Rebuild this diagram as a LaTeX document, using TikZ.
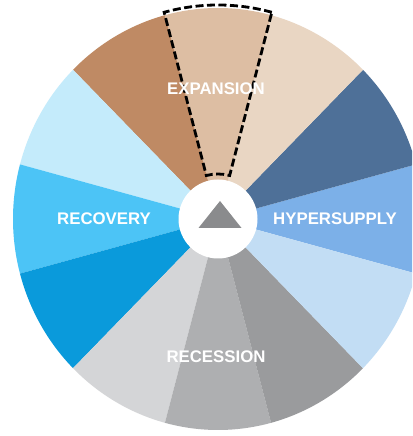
\documentclass[tikz,border=0pt]{standalone}
\usepackage{fontspec}
\setmainfont{Liberation Sans}
\definecolor{cHyp}{HTML}{7CB0E8}
\definecolor{cSlate}{HTML}{4E7098}
\definecolor{cBeige}{HTML}{E9D6C3}
\definecolor{cTan}{HTML}{DDBEA3}
\definecolor{cBrown}{HTML}{BF8A64}
\definecolor{cPaleBlue}{HTML}{C4EBFB}
\definecolor{cSky}{HTML}{4CC4F6}
\definecolor{cBlue}{HTML}{0A9ADB}
\definecolor{cLightGray}{HTML}{D4D5D7}
\definecolor{cGray}{HTML}{AEAFB1}
\definecolor{cDarkGray}{HTML}{9A9B9D}
\definecolor{cIce}{HTML}{C2DDF4}
\definecolor{cTri}{HTML}{8A8B8D}
\begin{document}
\begin{tikzpicture}[x=1pt,y=1pt,
  lbl/.style={text=white, inner sep=0pt, font=\fontsize{16.8}{18}\selectfont\bfseries},
  hubstyle/.style={circle, fill=white, minimum size=79pt, inner sep=0pt},
  focus/.style={black, line width=2.8pt, dash pattern=on 8pt off 3.5pt}]
\useasboundingbox (0,0) rectangle (412,436);
\clip (0,0) rectangle (412,436);
\fill[white] (0,0) rectangle (412,436);
\coordinate (c) at (218,217);
\foreach \a/\col in {-15/cHyp, 15/cSlate, 45/cBeige, 75/cTan, 105/cBrown, 135/cPaleBlue,
                     165/cSky, 195/cBlue, 225/cLightGray, 255/cGray, 285/cDarkGray, 315/cIce}
  \fill[\col] (c) -- ++({205*cos(\a)},{211*sin(\a)})
    arc[start angle=\a, end angle=\a+30, x radius=205, y radius=211] -- cycle;
\draw[focus] ([shift={({208*cos(75)},{214*sin(75)})}]c)
  arc[start angle=75, end angle=105, x radius=208, y radius=214]
  -- ([shift={(105:45)}]c) arc[start angle=105, end angle=75, radius=45] -- cycle;
\node[hubstyle] (hub) at (c) {};
\fill[cTri] ([shift={(2,18)}]hub.center) -- ([shift={(-19.5,-9)}]hub.center) -- ([shift={(23.5,-9)}]hub.center) -- cycle;
\node[lbl] (expansion) at (216,347) {EXPANSION};
\node[lbl] (recovery) at (104,217) {RECOVERY};
\node[lbl] (hypersupply) at (335,217) {HYPERSUPPLY};
\node[lbl] (recession) at (216,79) {RECESSION};
\end{tikzpicture}
\end{document}
